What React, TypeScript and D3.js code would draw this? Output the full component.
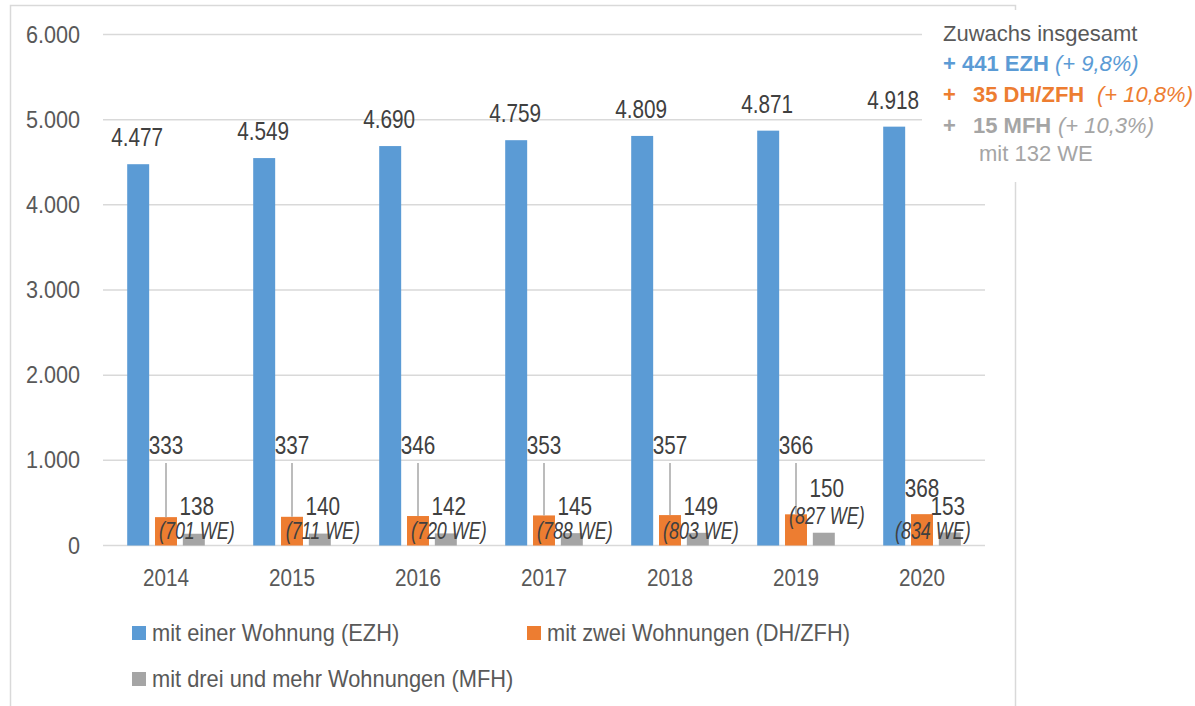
import React, { useEffect, useRef } from 'react';
import * as d3 from 'd3';

const years = ['2014', '2015', '2016', '2017', '2018', '2019', '2020'];
const ezh = [4477, 4549, 4690, 4759, 4809, 4871, 4918];
const dhzfh = [333, 337, 346, 353, 357, 366, 368];
const mfh = [138, 140, 142, 145, 149, 150, 153];
const mfhWE = [701, 711, 720, 788, 803, 827, 834];
const yTicks = [0, 1000, 2000, 3000, 4000, 5000, 6000];

// where the small labels sit (in value units)
const dhLabelAt = [1180, 1180, 1180, 1180, 1180, 1180, 675];
const mfhLabelAt = [465, 465, 465, 465, 465, 675, 465];
const mfhShift = [3, 3, 3, 3, 3, 3, -2];
const weShift = [3, 3, 3, 3, 3, 3, -17];

const seriesNames = [
  'mit einer Wohnung (EZH)',
  'mit zwei Wohnungen (DH/ZFH)',
  'mit drei und mehr Wohnungen (MFH)',
];
const colors = ['#5B9BD5', '#ED7D31', '#A5A5A5'];

const fmt = (v: number) => d3.format(',')(v).replace(/,/g, '.');
const FONT = '"Liberation Sans", Arial, sans-serif';

// text that is a bit narrower than the font, like the original
function addText(g: any, x: number, y: number, txt: string, size: number, sx: number, anchor = 'middle', italic = false) {
  return g
    .append('text')
    .attr('transform', `translate(${x},${y}) scale(${sx},1)`)
    .attr('text-anchor', anchor)
    .style('font', `${italic ? 'italic ' : ''}${size}px ${FONT}`)
    .text(txt);
}

export default function App() {
  const ref = useRef<SVGSVGElement | null>(null);

  useEffect(() => {
    const svg = d3.select(ref.current);
    svg.selectAll('*').remove();

    const x0 = d3.scaleBand().domain(years).range([103, 985]);
    const x1 = d3
      .scaleBand()
      .domain(['0', '1', '2'])
      .range([0, x0.bandwidth()])
      .paddingInner(0.21)
      .paddingOuter(0.87);
    const y = d3.scaleLinear().domain([0, 6000]).range([545.5, 34.5]);
    const bw = x1.bandwidth();
    const cx = (i: number, si: number) =>
      (x0(years[i]) as number) + (x1(String(si)) as number) + bw / 2;

    // outer frame
    svg
      .append('rect')
      .attr('x', 10.5)
      .attr('y', 5.5)
      .attr('width', 1005)
      .attr('height', 720)
      .attr('fill', 'none')
      .attr('stroke', '#D9D9D9')
      .attr('stroke-width', 1.5);

    // gridlines
    svg
      .append('g')
      .selectAll('line')
      .data(yTicks)
      .enter()
      .append('line')
      .attr('x1', 103)
      .attr('x2', 985)
      .attr('y1', d => y(d))
      .attr('y2', d => y(d))
      .attr('stroke', '#D9D9D9')
      .attr('stroke-width', 1.5);

    const axis = svg.append('g').attr('fill', '#595959');
    yTicks.forEach(t => addText(axis, 80, y(t) + 8, fmt(t), 23, 0.94, 'end'));
    years.forEach(yr =>
      addText(axis, (x0(yr) as number) + x0.bandwidth() / 2, 586, yr, 23, 0.9)
    );

    const series = [ezh, dhzfh, mfh];
    series.forEach((vals, si) => {
      svg
        .append('g')
        .selectAll('rect')
        .data(vals)
        .enter()
        .append('rect')
        .attr('x', (d, i) => (x0(years[i]) as number) + (x1(String(si)) as number))
        .attr('y', d => y(d))
        .attr('width', bw)
        .attr('height', d => y(0) - y(d))
        .attr('fill', colors[si]);
    });

    // annotation box (white, drawn over frame and gridlines)
    svg
      .append('rect')
      .attr('x', 922)
      .attr('y', 10)
      .attr('width', 273)
      .attr('height', 172)
      .attr('fill', '#fff');

    const ann = svg.append('g').style('font', `22px ${FONT}`);
    ann.append('text').attr('x', 943).attr('y', 41).attr('fill', '#595959').text('Zuwachs insgesamt');
    const l1 = ann.append('text').attr('x', 943).attr('y', 71).attr('fill', colors[0]);
    l1.append('tspan').attr('font-weight', 'bold').text('+ 441 EZH ');
    l1.append('tspan').attr('font-style', 'italic').text('(+ 9,8%)');
    const l2 = ann.append('text').attr('y', 102).attr('fill', colors[1]);
    l2.append('tspan').attr('x', 943).attr('font-weight', 'bold').text('+');
    l2.append('tspan').attr('x', 973).attr('font-weight', 'bold').text('35 DH/ZFH');
    l2.append('tspan').attr('x', 1097).attr('font-style', 'italic').text('(+ 10,8%)');
    const l3 = ann.append('text').attr('y', 133).attr('fill', colors[2]);
    l3.append('tspan').attr('x', 943).attr('font-weight', 'bold').text('+');
    l3.append('tspan').attr('x', 973).attr('font-weight', 'bold').text('15 MFH');
    l3.append('tspan').attr('x', 1058).attr('font-style', 'italic').text('(+ 10,3%)');
    ann.append('text').attr('x', 979).attr('y', 161).attr('fill', colors[2]).text('mit 132 WE');

    const labels = svg.append('g').attr('fill', '#404040');

    ezh.forEach((d, i) => addText(labels, cx(i, 0) - 1, y(d) - 18, fmt(d), 25, 0.83));

    // leader lines for DH/ZFH labels that sit high above their bars
    labels
      .selectAll('line')
      .data(dhzfh.map((d, i) => ({ d, i })).filter(o => dhLabelAt[o.i] > 1000))
      .enter()
      .append('line')
      .attr('x1', o => cx(o.i, 1))
      .attr('x2', o => cx(o.i, 1))
      .attr('y1', o => y(dhLabelAt[o.i]) + 18)
      .attr('y2', o => y(o.d))
      .attr('stroke', '#A6A6A6')
      .attr('stroke-width', 1.5);

    dhzfh.forEach((d, i) => addText(labels, cx(i, 1), y(dhLabelAt[i]) + 9, String(d), 25, 0.83));
    mfh.forEach((d, i) =>
      addText(labels, cx(i, 2) + mfhShift[i], y(mfhLabelAt[i]) + 9, String(d), 25, 0.83)
    );
    mfhWE.forEach((d, i) =>
      addText(
        labels,
        cx(i, 2) + weShift[i],
        y(mfhLabelAt[i]) + 33 + (i === 5 ? 3 : 0),
        `(${d} WE)`,
        23,
        0.78,
        'middle',
        true
      )
    );

    // legend
    const legendPos = [
      [132, 626],
      [527, 626],
      [132, 672],
    ];
    const lg = svg.append('g').attr('fill', '#595959');
    seriesNames.forEach((name, i) => {
      lg.append('rect')
        .attr('x', legendPos[i][0])
        .attr('y', legendPos[i][1])
        .attr('width', 14)
        .attr('height', 14)
        .attr('fill', colors[i]);
      addText(lg, legendPos[i][0] + 20, legendPos[i][1] + 15, name, 23, 0.95, 'start');
    });
  }, []);

  return (
    <svg
      ref={ref}
      width={1195}
      height={706}
      style={{ position: 'absolute', left: 0, top: 0, background: '#fff' }}
    />
  );
}
